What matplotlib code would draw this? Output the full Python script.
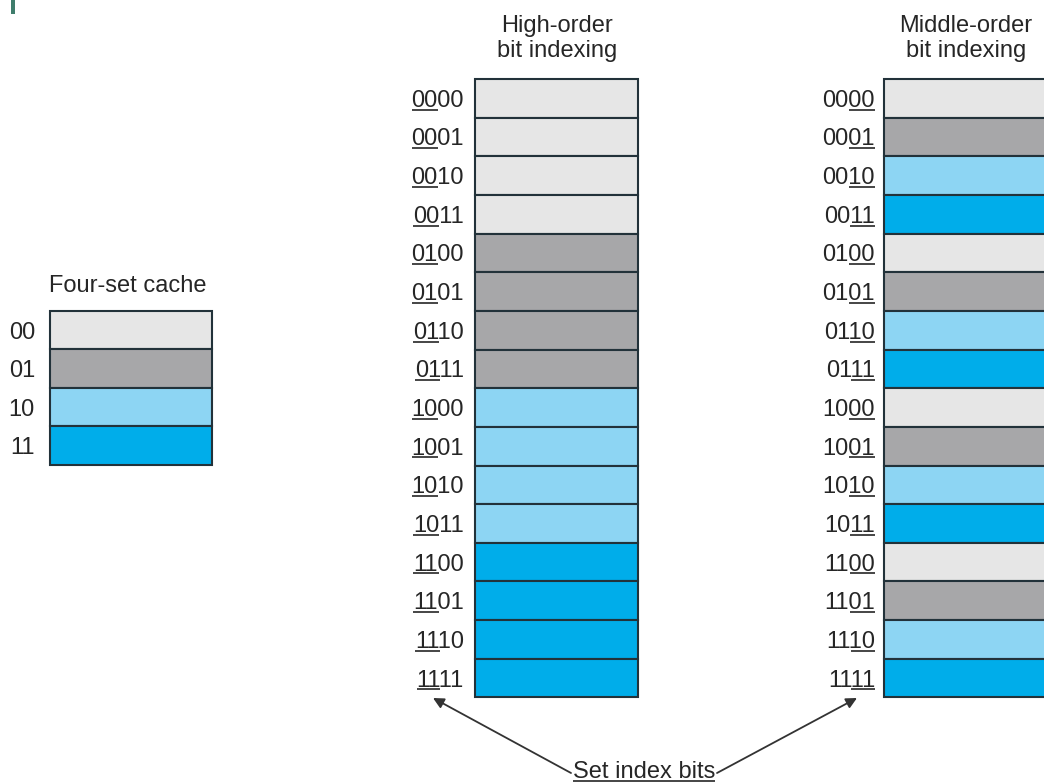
import matplotlib
matplotlib.use('Agg')
from matplotlib import pyplot as plt

plt.rcParams['font.family'] = ['Liberation Sans', 'DejaVu Sans']

# data
cache_labels = ['00', '01', '10', '11']
cache_sets = [0, 1, 2, 3]
addresses = ['0000', '0001', '0010', '0011', '0100', '0101', '0110', '0111',
             '1000', '1001', '1010', '1011', '1100', '1101', '1110', '1111']
high_sets = [0, 0, 0, 0, 1, 1, 1, 1, 2, 2, 2, 2, 3, 3, 3, 3]
mid_sets = [0, 1, 2, 3, 0, 1, 2, 3, 0, 1, 2, 3, 0, 1, 2, 3]
set_colors = ['#e6e6e6', '#a7a7a9', '#8dd5f3', '#00adea']

txt = '#262626'
edge = '#22323a'
fs = 17

fig = plt.figure(figsize=(10.44, 7.82), dpi=100)
ax = fig.add_axes([0, 0, 1, 1])
ax.set_xlim(0, 1044)
ax.set_ylim(782, 0)
ax.axis('off')
renderer = fig.canvas.get_renderer()

# little mark in the corner
ax.add_patch(plt.Rectangle((11, 0), 4, 14, color='#3f7d6c', lw=0))


def underline(t, base_y, first, last, n):
    # underline chars first..last-1 of an n-char text (digits are equal width)
    bb = t.get_window_extent(renderer)
    w = bb.width / n
    ax.plot([bb.x0 + first * w, bb.x0 + last * w], [base_y + 2.8, base_y + 2.8],
            color=txt, lw=1.2, solid_capstyle='butt')


def column(x0, width, top, row_h, sets, labels, label_x, ul=None):
    ys = [top + row_h * (i + 0.5) for i in range(len(sets))]
    ax.barh(ys, width, left=x0, height=row_h,
            color=[set_colors[s] for s in sets], edgecolor=edge, linewidth=1.5)
    for y, lab in zip(ys, labels):
        t = ax.text(label_x, y + 8.5, lab, ha='right', va='baseline', fontsize=fs, color=txt)
        if ul:
            underline(t, y + 8.5, ul[0], ul[1], len(lab))


# four-set cache
column(50, 162, 311, 38.4, cache_sets, cache_labels, 35)
ax.text(128, 292, 'Four-set cache', ha='center', va='baseline', fontsize=fs, color=txt)

# high-order
column(475, 163, 79, 38.65, high_sets, addresses, 464, ul=(0, 2))
ax.text(557, 32, 'High-order', ha='center', va='baseline', fontsize=fs, color=txt)
ax.text(557, 57, 'bit indexing', ha='center', va='baseline', fontsize=fs, color=txt)

# middle-order
column(884, 200, 79, 38.65, mid_sets, addresses, 875, ul=(2, 4))
ax.text(966, 32, 'Middle-order', ha='center', va='baseline', fontsize=fs, color=txt)
ax.text(966, 57, 'bit indexing', ha='center', va='baseline', fontsize=fs, color=txt)

# set index bits
t = ax.text(644, 778, 'Set index bits', ha='center', va='baseline', fontsize=fs, color=txt)
bb = t.get_window_extent(renderer)
ax.plot([bb.x0, bb.x1], [781, 781], color=txt, lw=1.2, solid_capstyle='butt')
arrow = dict(arrowstyle='-|>', color='#333333', lw=1.3, mutation_scale=16, shrinkA=0, shrinkB=0)
ax.annotate('', xy=(433, 698), xytext=(571, 773), arrowprops=arrow)
ax.annotate('', xy=(857, 698), xytext=(717, 773), arrowprops=arrow)

fig.savefig('out.png', dpi=100)
